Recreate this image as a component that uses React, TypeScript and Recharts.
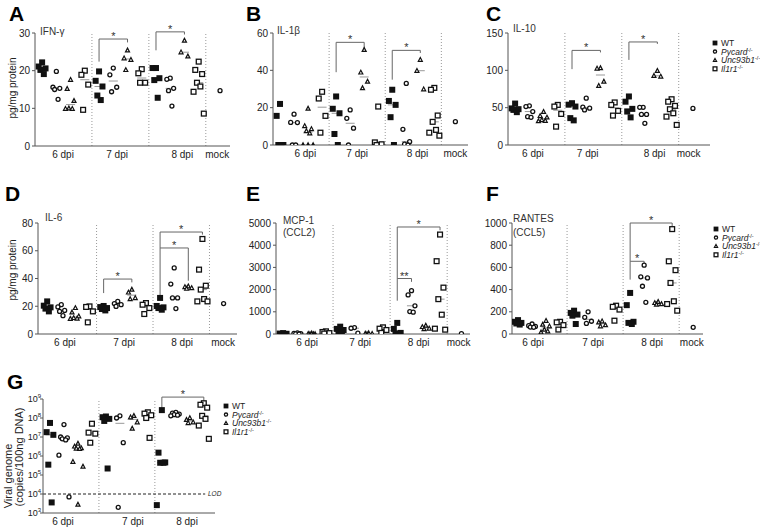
import React from "react";
import {
  Legend,
  ReferenceDot,
  ReferenceLine,
  Scatter,
  ScatterChart,
  XAxis,
  YAxis,
} from "recharts";

const FONT = "'Liberation Sans', Arial, Helvetica, sans-serif";

const days = ["6 dpi", "7 dpi", "8 dpi"];
const genotypes = ["WT", "Pycard", "Unc93b1", "Il1r1"];

// IFN-γ, pg/mg protein (one list per day: 6, 7, 8 dpi)
const ifngWT = [[22.2, 21.1, 20.6, 20.2, 19.1], [19.8, 17.3, 15.8, 13.4, 12.2], [20.7, 20.7, 18.0, 17.5, 12.8]];
const ifngPycard = [[19.8, 15.6, 15.3, 15.0, 12.4], [20.7, 18.9, 15.6, 14.4], [18.0, 17.7, 15.3, 14.7, 10.6]];
const ifngUnc = [[17.6, 15.2, 12.0, 10.0, 9.9, 9.9], [25.4, 23.3, 22.9, 20.2], [28.0, 24.9, 23.8]];
const ifngIl1r1 = [[20.0, 18.9, 16.3, 9.6], [20.4, 19.3, 16.8, 16.8], [22.4, 20.2, 19.1, 16.8, 15.8, 14.4, 8.6]];
const ifngMock = [14.7];

// IL-1β
const il1bWT = [[22, 15.6, 0, 0, 0], [26, 19.4, 17, 5.9, 0], [29.6, 23.6, 21.5, 14.9, 0]];
const il1bPycard = [[16.5, 12.1, 12.0, 0, 0], [18.8, 14.3, 9, 0], [33, 8.4, 1.8, 0.5, 0]];
const il1bUnc = [[19.5, 10.2, 8.6, 7.5, 6.3, 0, 0, 0], [51, 38.9, 34, 30.5], [45.7, 39.8, 29.9]];
const il1bIl1r1 = [[28.5, 24.9, 15.6, 6.6], [20.6, 1.4, 0.4, 0], [30.6, 29.6, 15.8, 12.4, 8.1, 6.6, 5.0]];
const il1bMock = [12.5];

// IL-10
const il10WT = [[55.5, 49, 48, 47, 44], [56, 54, 51.5, 36, 33], [65, 58, 48.4, 44.8, 37]];
const il10Pycard = [[52.4, 51.5, 44.8, 38, 37], [62.7, 50.6, 49.3, 47], [50.5, 50.5, 41, 41, 29]];
const il10Unc = [[44.5, 39, 37, 33.5, 32.5, 32], [103, 102.5, 85, 79.3], [99.4, 92.7, 91.8]];
const il10Il1r1 = [[53.7, 51.5, 41.6, 24.6], [57, 53.7, 45.7, 39.4], [61.3, 58, 52.4, 47.9, 42.5, 38, 26.9]];
const il10Mock = [49];

// IL-6
const il6WT = [[23.5, 20.4, 19.2, 18.3, 16.3], [20.2, 19.4, 18.7, 18, 17], [26, 20.2, 19.2, 18.7, 17.5]];
const il6Pycard = [[21.1, 19.5, 17, 16.3, 13.2], [23.5, 21.9, 21.1, 19.9], [47.6, 36, 26, 26, 18.3]];
const il6Unc = [[18.8, 15.6, 12.8, 11.6, 11.2, 11], [32, 30, 26, 25.2], [34.4, 33.9, 33.2, 32.7]];
const il6Il1r1 = [[19.9, 19.5, 16.3, 8.4], [22.3, 21.1, 18.7, 14.4], [68.5, 46.4, 34.8, 32, 25.2, 23.5, 23.5]];
const il6Mock = [21.9];

// MCP-1 (CCL2)
const mcpWT = [[40, 20, 10, 0, 0], [330, 230, 180, 120, 60], [500, 230, 50, 20, 10]];
const mcpPycard = [[50, 30, 20, 10, 0], [290, 260, 40], [1950, 1760, 1270, 1010, 985]];
const mcpUnc = [[30, 10, 0, 0, 0], [40, 20, 10, 0], [380, 320, 250, 220]];
const mcpIl1r1 = [[120, 90, 40, 20], [300, 240, 180, 50], [4480, 3280, 2090, 1570, 870, 240, 195]];
const mcpMock = [20];

// RANTES (CCL5)
const rantesWT = [[125, 110, 100, 95, 85], [210, 190, 175, 165, 90], [370, 260, 110, 100, 90]];
const rantesPycard = [[90, 75, 68, 62, 60], [200, 150, 115, 95], [620, 515, 505, 430, 285]];
const rantesUnc = [[120, 85, 70, 40, 25, 15], [115, 105, 80, 70], [290, 280, 270, 265]];
const rantesIl1r1 = [[110, 105, 80, 40], [255, 245, 220, 120], [945, 655, 575, 460, 295, 270, 210]];
const rantesMock = [60];

// viral genome, copies/100ng DNA
const virusWT = [[5.5e7, 1.8e7, 1.3e7, 3.5e5, 3.6e3], [1.2e8, 1.1e8, 9e7, 7e7, 2.2e5], [2.6e8, 1.5e6, 4.6e5, 4.4e5, 4.4e5, 2.6e3]];
const virusPycard = [[4.5e7, 1e7, 9e6, 8e6, 7e6, 1.1e6, 7e3], [1.3e8, 1e8, 5e6, 2e3], [2e8, 1.8e8, 1.6e8, 1.5e8, 1.4e8, 1.3e8]];
const virusUnc = [[4.5e6, 3.2e6, 2.6e6, 2.5e6, 2.4e6, 5e5, 2.8e5, 2.8e3], [1.3e8, 1.1e8, 6e7, 2.8e7], [1e8, 8e7, 6e7, 5.5e7]];
const virusIl1r1 = [[5e7, 1.7e7, 1.5e7, 5e6], [2e8, 1.7e8, 1.4e8, 1e8, 9e6], [6e8, 5e8, 3.5e8, 1.3e8, 9e7, 4e7, 8e6]];
const virusLOD = 1e4;

type Bracket = { from: number; to: number; top: number; left: number; right: number; mark: string };

const ifngBrackets: Bracket[] = [
  { from: 5, to: 7, top: 28.4, left: 22.4, right: 27.5, mark: "*" },
  { from: 9, to: 11, top: 30.3, left: 25.4, right: 29.6, mark: "*" },
];
const il1bBrackets: Bracket[] = [
  { from: 5, to: 7, top: 55, left: 39, right: 52, mark: "*" },
  { from: 9, to: 11, top: 50.7, left: 35, right: 49.3, mark: "*" },
];
const il10Brackets: Bracket[] = [
  { from: 5, to: 7, top: 126.7, left: 101.6, right: 124, mark: "*" },
  { from: 9, to: 11, top: 138, left: 114, right: 135.4, mark: "*" },
];
const il6Brackets: Bracket[] = [
  { from: 5, to: 7, top: 39.6, left: 29.5, right: 37.2, mark: "*" },
  { from: 9, to: 11, top: 62, left: 27, right: 38.4, mark: "*" },
  { from: 9, to: 12, top: 73.5, left: 62, right: 71.6, mark: "*" },
];
const mcpBrackets: Bracket[] = [
  { from: 9, to: 10, top: 2500, left: 1500, right: 2350, mark: "**" },
  { from: 9, to: 12, top: 4820, left: 2500, right: 4670, mark: "*" },
];
const rantesBrackets: Bracket[] = [
  { from: 9, to: 10, top: 655, left: 490, right: 615, mark: "*" },
  { from: 9, to: 12, top: 1000, left: 655, right: 970, mark: "*" },
];
const virusBrackets: Bracket[] = [
  { from: 9, to: 12, top: 1.26e9, left: 3.4e8, right: 7.6e8, mark: "*" },
];

const marker = (g: number, cx: number, cy: number, s = 1) => {
  if (g === 0) return <rect x={cx - 3 * s} y={cy - 3 * s} width={6 * s} height={6 * s} fill="#111" />;
  if (g === 1) return <circle cx={cx} cy={cy} r={2 * s} fill="#fff" stroke="#111" strokeWidth={1.3} />;
  if (g === 2)
    return (
      <path
        d={`M${cx},${cy - 2.2 * s}L${cx + 2 * s},${cy + 1.6 * s}L${cx - 2 * s},${cy + 1.6 * s}Z`}
        fill="#fff"
        stroke="#111"
        strokeWidth={1.2}
      />
    );
  return <rect x={cx - 2.4 * s} y={cy - 2.4 * s} width={4.8 * s} height={4.8 * s} fill="#fff" stroke="#111" strokeWidth={1.3} />;
};

const spread = [0, -0.24, 0.24, -0.12, 0.12, -0.36, 0.36, 0];
const slotOf = (di: number, gi: number) => di * 4 + gi + 1;
const points = (byDay: number[][], gi: number) =>
  byDay.flatMap((vals, di) => vals.map((v, i) => ({ x: slotOf(di, gi) + spread[i % spread.length], y: v })));
const median = (a: number[]) => {
  const s = [...a].sort((x, y) => x - y);
  const m = s.length >> 1;
  return s.length % 2 ? s[m] : (s[m - 1] + s[m]) / 2;
};

const LogTick = (p: any) => (
  <text x={p.x + 3} y={p.y + 3} textAnchor="end" fontSize={9} fill="#222" fontFamily={FONT}>
    10
    <tspan dy={-4.5} fontSize={6}>
      {Math.round(Math.log10(p.payload.value))}
    </tspan>
  </text>
);

const LegendBox = () => (
  <svg width={80} height={36} style={{ overflow: "visible" }}>
    {genotypes.map((g, i) => (
      <g key={g}>
        {marker(i, 4, 4 + i * 8.6, 0.8)}
        <text x={10} y={7 + i * 8.6} fontSize={8.5} fill="#222" fontFamily={FONT}>
          <tspan fontStyle={i ? "italic" : "normal"}>{g}</tspan>
          {i > 0 && (
            <tspan dy={-3} fontSize={5.5}>
              -/-
            </tspan>
          )}
        </text>
      </g>
    ))}
  </svg>
);

interface PanelProps {
  plot: [number, number, number, number];
  xDomain: [number, number];
  xTicks: number[];
  yDomain: [number, number];
  yTicks: number[];
  groups: number[][][];
  mock?: number[];
  brackets: Bracket[];
  log?: boolean;
  lod?: number;
  legendAt?: [number, number];
}

const YW = 34;
const MT = 16;
const XH = 22;

const Panel = (props: PanelProps) => {
  const [pl, pt, pr, pb] = props.plot;
  const left = pl - YW;
  const top = pt - MT;
  const extra = props.legendAt ? props.legendAt[0] + 70 - pr : 6;
  const width = pr - left + extra;
  const height = pb - top + XH;
  const labels = props.mock ? [...days, "mock"] : days;
  const dividers = props.mock ? [4.5, 8.5, 12.5] : [4.5, 8.5];

  return (
    <div style={{ position: "absolute", left, top }}>
      <ScatterChart width={width} height={height} margin={{ top: MT, right: extra, bottom: 0, left: 0 }}>
        <XAxis
          type="number"
          dataKey="x"
          domain={props.xDomain}
          ticks={props.xTicks}
          interval={0}
          allowDataOverflow
          tickFormatter={(v: number) => labels[props.xTicks.indexOf(v)]}
          tickLine={false}
          tickSize={3}
          tickMargin={2}
          height={XH}
          stroke="#555"
          tick={{ fontSize: 10, fill: "#222", fontFamily: FONT }}
        />
        <YAxis
          type="number"
          dataKey="y"
          domain={props.yDomain}
          ticks={props.yTicks}
          interval={0}
          scale={props.log ? "log" : "auto"}
          allowDataOverflow
          width={YW}
          tickSize={3}
          tickMargin={2}
          stroke="#555"
          tick={props.log ? LogTick : { fontSize: 10, fill: "#222", fontFamily: FONT }}
        />
        {dividers.map((d) => (
          <ReferenceLine key={`d${d}`} x={d} stroke="#999" strokeDasharray="1 2" />
        ))}
        {props.lod !== undefined && (
          <ReferenceLine
            segment={[
              { x: props.xDomain[0], y: props.lod },
              { x: 12.1, y: props.lod },
            ]}
            stroke="#222"
            strokeDasharray="3 2"
            ifOverflow="visible"
          />
        )}
        {props.lod !== undefined && (
          <ReferenceDot
            x={12.3}
            y={props.lod}
            r={0}
            ifOverflow="visible"
            shape={(s: any) => (
              <text x={s.cx} y={s.cy + 2} fontSize={6.5} fontStyle="italic" fill="#222" fontFamily={FONT}>
                LOD
              </text>
            )}
          />
        )}
        {props.groups.flatMap((byDay, gi) =>
          byDay.map((vals, di) => {
            const s = slotOf(di, gi);
            const m = median(vals);
            return (
              <ReferenceLine
                key={`m${gi}-${di}`}
                segment={[
                  { x: s - 0.32, y: m },
                  { x: s + 0.32, y: m },
                ]}
                stroke="#999"
                ifOverflow="visible"
              />
            );
          })
        )}
        {genotypes.map((g, gi) => (
          <Scatter
            key={g}
            name={g}
            data={points(props.groups[gi], gi)}
            shape={(s: any) => marker(gi, s.cx, s.cy)}
            isAnimationActive={false}
          />
        ))}
        {props.mock && (
          <Scatter
            name="mock"
            data={props.mock.map((v) => ({ x: 13.5, y: v }))}
            shape={(s: any) => marker(1, s.cx, s.cy)}
            isAnimationActive={false}
          />
        )}
        {props.brackets.flatMap((b, bi) => [
          <ReferenceLine
            key={`bl${bi}`}
            segment={[
              { x: b.from, y: b.left },
              { x: b.from, y: b.top },
            ]}
            stroke="#666"
            ifOverflow="visible"
          />,
          <ReferenceLine
            key={`bt${bi}`}
            segment={[
              { x: b.from, y: b.top },
              { x: b.to, y: b.top },
            ]}
            stroke="#666"
            ifOverflow="visible"
          />,
          <ReferenceLine
            key={`br${bi}`}
            segment={[
              { x: b.to, y: b.top },
              { x: b.to, y: b.right },
            ]}
            stroke="#666"
            ifOverflow="visible"
          />,
          <ReferenceDot
            key={`bs${bi}`}
            x={(b.from + b.to) / 2}
            y={b.top}
            r={0}
            ifOverflow="visible"
            shape={(s: any) => (
              <text x={s.cx} y={s.cy + 1} textAnchor="middle" fontSize={11} fill="#333" fontFamily={FONT}>
                {b.mark}
              </text>
            )}
          />,
        ])}
        {props.legendAt && (
          <Legend
            layout="vertical"
            align="center"
            verticalAlign="middle"
            wrapperStyle={{ left: props.legendAt[0] - 4 - left, top: props.legendAt[1] - 4 - top, width: 80 }}
            content={() => <LegendBox />}
          />
        )}
      </ScatterChart>
    </div>
  );
};

const Letter = ({ x, y, c }: { x: number; y: number; c: string }) => (
  <text x={x} y={y} fontSize={21} fontWeight="bold" fill="#000" fontFamily={FONT}>
    {c}
  </text>
);

const Title = ({ x, y, t }: { x: number; y: number; t: string }) => (
  <text x={x} y={y} fontSize={10} fill="#333" fontFamily={FONT}>
    {t}
  </text>
);

const VLabel = ({ x, y, t, size = 10 }: { x: number; y: number; t: string; size?: number }) => (
  <text
    transform={`translate(${x},${y}) rotate(-90)`}
    textAnchor="middle"
    dominantBaseline="central"
    fontSize={size}
    fill="#222"
    fontFamily={FONT}
  >
    {t}
  </text>
);

export default function App() {
  return (
    <div style={{ position: "absolute", left: 0, top: 0, width: 760, height: 528, background: "#fff" }}>
      <svg width={760} height={528} style={{ position: "absolute", left: 0, top: 0 }}>
        <Letter x={9} y={21} c="A" />
        <Letter x={246} y={21} c="B" />
        <Letter x={486} y={21} c="C" />
        <Letter x={5} y={201} c="D" />
        <Letter x={246} y={201} c="E" />
        <Letter x={486} y={201} c="F" />
        <Letter x={7} y={389} c="G" />
        <Title x={40} y={35} t="IFN-γ" />
        <Title x={277} y={34} t="IL-1β" />
        <Title x={513} y={32} t="IL-10" />
        <Title x={45} y={221} t="IL-6" />
        <Title x={283} y={224} t="MCP-1" />
        <Title x={283} y={236} t="(CCL2)" />
        <Title x={513} y={222} t="RANTES" />
        <Title x={513} y={236} t="(CCL5)" />
        <VLabel x={12} y={88} t="pg/mg protein" />
        <VLabel x={12} y={270} t="pg/mg protein" />
        <VLabel x={8} y={476} t="Viral genome" size={11} />
        <VLabel x={19} y={457} t="(copies/100ng DNA)" size={11} />
      </svg>
      <Panel
        plot={[35, 33, 230, 146]}
        xDomain={[0.5, 14.2]}
        xTicks={[2.47, 6.27, 10.85, 13.3]}
        yDomain={[0, 30]}
        yTicks={[0, 10, 20, 30]}
        groups={[ifngWT, ifngPycard, ifngUnc, ifngIl1r1]}
        mock={ifngMock}
        brackets={ifngBrackets}
      />
      <Panel
        plot={[273, 33, 468, 145]}
        xDomain={[0.5, 14.4]}
        xTicks={[2.8, 6.5, 10.8, 13.5]}
        yDomain={[0, 60]}
        yTicks={[0, 20, 40, 60]}
        groups={[il1bWT, il1bPycard, il1bUnc, il1bIl1r1]}
        mock={il1bMock}
        brackets={il1bBrackets}
      />
      <Panel
        plot={[508, 33, 710, 145]}
        xDomain={[0.5, 14.7]}
        xTicks={[2.25, 6.1, 10.8, 13.2]}
        yDomain={[0, 150]}
        yTicks={[0, 50, 100, 150]}
        groups={[il10WT, il10Pycard, il10Unc, il10Il1r1]}
        mock={il10Mock}
        brackets={il10Brackets}
        legendAt={[715, 43]}
      />
      <Panel
        plot={[38, 223, 237, 334]}
        xDomain={[0.35, 14.45]}
        xTicks={[2.26, 6.45, 10.56, 13.47]}
        yDomain={[0, 80]}
        yTicks={[0, 20, 40, 60, 80]}
        groups={[il6WT, il6Pycard, il6Unc, il6Il1r1]}
        mock={il6Mock}
        brackets={il6Brackets}
      />
      <Panel
        plot={[276, 223, 470, 334]}
        xDomain={[0.5, 14.1]}
        xTicks={[2.68, 6.4, 10.5, 13.3]}
        yDomain={[0, 5000]}
        yTicks={[0, 1000, 2000, 3000, 4000, 5000]}
        groups={[mcpWT, mcpPycard, mcpUnc, mcpIl1r1]}
        mock={mcpMock}
        brackets={mcpBrackets}
      />
      <Panel
        plot={[512, 223, 703, 334]}
        xDomain={[0.57, 14.2]}
        xTicks={[2.07, 6.36, 10.57, 13.4]}
        yDomain={[0, 1000]}
        yTicks={[0, 200, 400, 600, 800, 1000]}
        groups={[rantesWT, rantesPycard, rantesUnc, rantesIl1r1]}
        mock={rantesMock}
        brackets={rantesBrackets}
        legendAt={[716, 229]}
      />
      <Panel
        plot={[43, 399, 215, 513]}
        xDomain={[0.5, 12.8]}
        xTicks={[1.93, 6.93, 10.8]}
        yDomain={[1e3, 1e9]}
        yTicks={[1e3, 1e4, 1e5, 1e6, 1e7, 1e8, 1e9]}
        groups={[virusWT, virusPycard, virusUnc, virusIl1r1]}
        brackets={virusBrackets}
        log
        lod={virusLOD}
        legendAt={[226, 406]}
      />
    </div>
  );
}
